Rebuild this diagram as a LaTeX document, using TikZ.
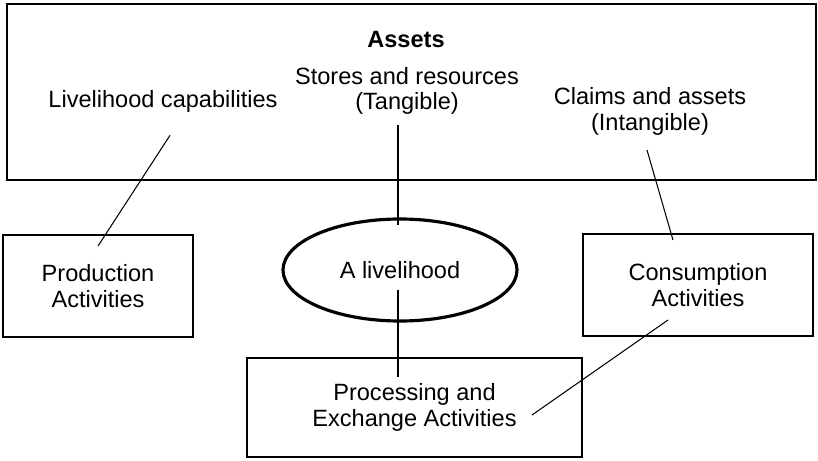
\documentclass[tikz,border=0pt]{standalone}
\usepackage{fontspec}
\setmainfont{Liberation Sans}
\usetikzlibrary{positioning,calc,shapes.geometric}

\begin{document}
\begin{tikzpicture}[
			x=1mm,
			y=1mm,
			every node/.style={
				font=\fontsize{13.4}{14.6}\selectfont
			},
			frame/.style={
				draw,
				line width=1.1pt,
				align=center,
				inner sep=0pt
			},
			activity/.style={
				frame,
				minimum height=20.4mm
			},
			hub/.style={
				draw,
				ellipse,
				line width=1.8pt,
				inner sep=0pt,
				minimum width=46.8mm,
				minimum height=20.4mm
			},
			caption/.style={
				align=center,
				inner sep=0pt
			},
			link/.style={
				line width=0.6pt
			}
			]
			
			\useasboundingbox (0,0) rectangle (163.6,-92);
			
			%=====================================================================
			% Assets box
			%=====================================================================
			
			\node[frame, minimum width=161.8mm, minimum height=35.2mm] (assets)
			at (82.3,-18.4) {};
			
			\node[caption, font=\fontsize{13.4}{14.6}\selectfont\bfseries] (title)
			at (81.2,-8.0) {Assets};
			
			\node[caption] (tangible)
			at (81.4,-18.2) {Stores and resources\\(Tangible)};
			
			\node[caption] (capabilities)
			at (32.6,-20.2) {Livelihood capabilities};
			
			\node[caption] (intangible)
			at (130.0,-22.3) {Claims and assets\\(Intangible)};
			
			%=====================================================================
			% Livelihood and activities
			%=====================================================================
			
			\node[hub] (livelihood)
			at (80,-54) {A livelihood};
			
			\node[activity, minimum width=38mm] (production)
			at (19.6,-57.2) {Production\\Activities};
			
			\node[activity, minimum width=46mm] (consumption)
			at (139.6,-57) {Consumption\\Activities};
			
			\node[activity, minimum width=67mm, minimum height=19.8mm] (exchange)
			at (82.9,-81.5) {Processing and\\Exchange Activities};
			
			%=====================================================================
			% Links
			%=====================================================================
			
			\coordinate (cap-end) at ($(capabilities.south)+(1.4,-4.6)$);
			\coordinate (prod-end) at ($(production.north)+(0,-2.4)$);
			\coordinate (tang-end) at (79.6,-25);
			\coordinate (hub-top) at (79.6,-45);
			\coordinate (hub-low) at (79.6,-58);
			\coordinate (exch-top) at (79.6,-75.4);
			\coordinate (claim-end) at (129.4,-30);
			\coordinate (cons-top) at (134.6,-48);
			\coordinate (cons-low) at (133.6,-64);
			\coordinate (exch-end) at (106.4,-83);
			
			\draw[link] (cap-end) -- (prod-end);
			\draw[link] (tang-end) -- (hub-top);
			\draw[link] (hub-low) -- (exch-top);
			\draw[link] (claim-end) -- (cons-top);
			\draw[link] (cons-low) -- (exch-end);
			
		\end{tikzpicture}
\end{document}
